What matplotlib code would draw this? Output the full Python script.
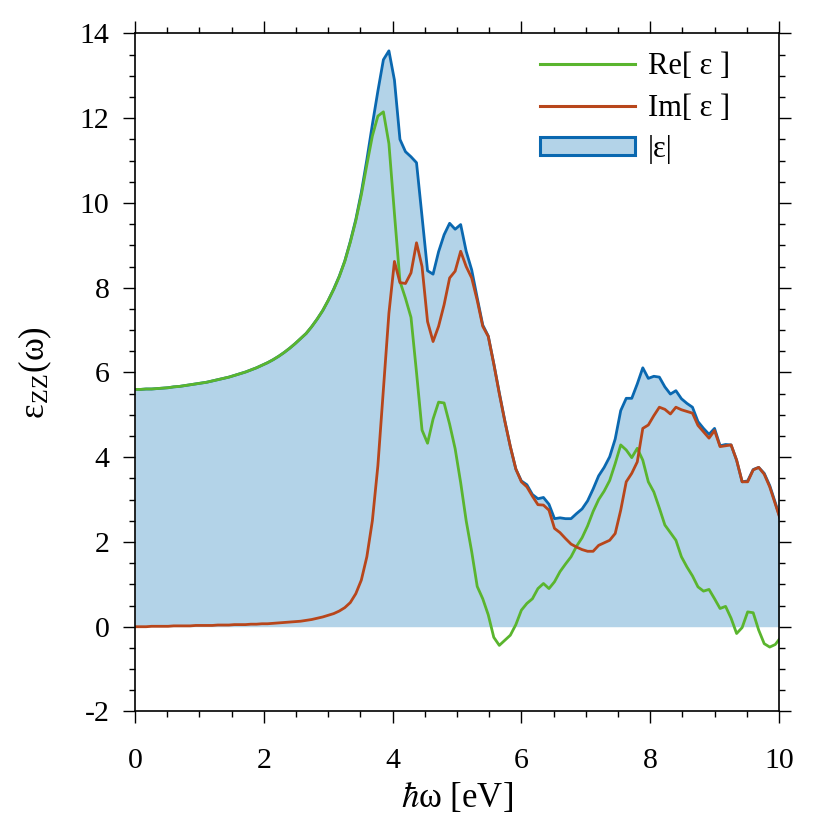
import matplotlib
matplotlib.use('Agg')
import matplotlib.pyplot as plt
import numpy as np
from matplotlib.ticker import MultipleLocator
from matplotlib.patches import Patch

plt.rcParams['font.family'] = ['Liberation Serif', 'DejaVu Serif']
plt.rcParams['mathtext.fontset'] = 'stix'
plt.rcParams['axes.unicode_minus'] = False

# energy grid (eV), step of the computed spectrum
energia = np.arange(118) * 0.0857

# Re[eps]
eps_re = [5.60, 5.60, 5.61, 5.61, 5.62, 5.63, 5.64, 5.66, 5.67, 5.69,
          5.71, 5.73, 5.75, 5.77, 5.80, 5.83, 5.86, 5.89, 5.93, 5.97,
          6.01, 6.06, 6.11, 6.17, 6.23, 6.30, 6.38, 6.47, 6.57, 6.68,
          6.80, 6.92, 7.08, 7.26, 7.46, 7.70, 7.96, 8.26, 8.62, 9.07,
          9.58, 10.19, 10.90, 11.58, 12.05, 12.15, 11.40, 9.75, 8.15, 7.75,
          7.30, 6.00, 4.64, 4.33, 4.90, 5.30, 5.28, 4.78, 4.20, 3.40,
          2.50, 1.77, 0.95, 0.66, 0.28, -0.25, -0.44, -0.32, -0.20, 0.05,
          0.39, 0.55, 0.66, 0.90, 1.02, 0.90, 1.06, 1.30, 1.48, 1.65,
          1.90, 2.10, 2.38, 2.72, 3.00, 3.20, 3.45, 3.85, 4.29, 4.17,
          3.99, 4.21, 3.93, 3.42, 3.18, 2.80, 2.40, 2.22, 2.04, 1.65,
          1.41, 1.20, 0.94, 0.84, 0.88, 0.66, 0.43, 0.48, 0.20, -0.16,
          -0.02, 0.35, 0.33, -0.08, -0.40, -0.48, -0.42, -0.25]

# Im[eps]
eps_im = [0.00, 0.00, 0.00, 0.01, 0.01, 0.01, 0.01, 0.02, 0.02, 0.02,
          0.02, 0.03, 0.03, 0.03, 0.03, 0.04, 0.04, 0.04, 0.05, 0.05,
          0.05, 0.06, 0.06, 0.07, 0.07, 0.08, 0.09, 0.10, 0.11, 0.12,
          0.13, 0.15, 0.17, 0.20, 0.23, 0.27, 0.31, 0.37, 0.45, 0.57,
          0.78, 1.10, 1.65, 2.50, 3.80, 5.60, 7.40, 8.62, 8.12, 8.10,
          8.35, 9.06, 8.50, 7.20, 6.73, 7.09, 7.60, 8.23, 8.39, 8.86,
          8.50, 8.23, 7.70, 7.09, 6.85, 6.20, 5.50, 4.85, 4.25, 3.72,
          3.42, 3.30, 3.08, 2.88, 2.87, 2.75, 2.32, 2.22, 2.08, 1.95,
          1.88, 1.82, 1.78, 1.78, 1.92, 1.98, 2.04, 2.20, 2.75, 3.42,
          3.62, 3.89, 4.68, 4.76, 4.98, 5.18, 5.13, 5.02, 5.18, 5.12,
          5.08, 5.04, 4.75, 4.60, 4.45, 4.63, 4.25, 4.27, 4.29, 3.93,
          3.42, 3.42, 3.70, 3.76, 3.60, 3.30, 2.90, 2.50]

# |eps|
eps_abs = [5.60, 5.60, 5.61, 5.61, 5.62, 5.63, 5.64, 5.66, 5.67, 5.69,
           5.71, 5.73, 5.75, 5.77, 5.80, 5.83, 5.86, 5.89, 5.93, 5.97,
           6.01, 6.06, 6.11, 6.17, 6.23, 6.30, 6.38, 6.47, 6.57, 6.68,
           6.80, 6.92, 7.08, 7.26, 7.46, 7.70, 7.97, 8.27, 8.63, 9.09,
           9.61, 10.25, 11.02, 11.85, 12.64, 13.38, 13.59, 12.90, 11.50, 11.21,
           11.09, 10.95, 9.68, 8.40, 8.32, 8.85, 9.25, 9.52, 9.38, 9.49,
           8.86, 8.42, 7.76, 7.12, 6.86, 6.21, 5.52, 4.86, 4.25, 3.72,
           3.44, 3.35, 3.12, 3.02, 3.05, 2.89, 2.55, 2.57, 2.55, 2.55,
           2.67, 2.78, 2.97, 3.25, 3.56, 3.76, 4.01, 4.43, 5.10, 5.39,
           5.39, 5.73, 6.11, 5.86, 5.91, 5.89, 5.66, 5.49, 5.57, 5.38,
           5.27, 5.18, 4.84, 4.68, 4.54, 4.68, 4.27, 4.30, 4.29, 3.93,
           3.42, 3.44, 3.71, 3.76, 3.62, 3.33, 2.93, 2.51]

cor_re = '#5ab52e'
cor_im = '#b8461b'
cor_abs = '#0a68b0'
cor_fill = '#b3d3e8'

fig = plt.figure(figsize=(8.3, 8.3), dpi=100)
ax = fig.add_axes([0.1627, 0.1428, 0.7759, 0.8169])

ax.fill_between(energia, 0, eps_abs, color=cor_fill, lw=0)
ax.plot(energia, eps_abs, color=cor_abs, lw=2.0)
ax.plot(energia, eps_re, color=cor_re, lw=2.0)
ax.plot(energia, eps_im, color=cor_im, lw=2.0)

ax.set_xlim(0, 10)
ax.set_ylim(-2, 14)
ax.xaxis.set_major_locator(MultipleLocator(2))
ax.xaxis.set_minor_locator(MultipleLocator(0.5))
ax.yaxis.set_major_locator(MultipleLocator(2))
ax.yaxis.set_minor_locator(MultipleLocator(0.5))
ax.tick_params(which='both', direction='out', top=True, right=True,
               width=1.0, labelsize=21.5)
ax.tick_params(axis='x', pad=18)
ax.tick_params(axis='y', pad=10)
ax.tick_params(which='major', length=8.5)
ax.tick_params(which='minor', length=4)
for s in ax.spines.values():
    s.set_linewidth(1.2)

ax.set_xlabel(r'$\hbar$ω [eV]', fontsize=25, labelpad=4)
ax.set_ylabel(r'ε$_{\mathregular{ZZ}}$(ω)', fontsize=25, labelpad=18)

h_re, = ax.plot([], [], color=cor_re, lw=2.2)
h_im, = ax.plot([], [], color=cor_im, lw=2.2)
h_abs = Patch(facecolor=cor_fill, edgecolor=cor_abs, lw=2.2)
ax.legend([h_re, h_im, h_abs], ['Re[ ε ]', 'Im[ ε ]', '|ε|'],
          loc='upper left', bbox_to_anchor=(0.629, 0.972), frameon=False,
          fontsize=22, handlelength=3.1, handletextpad=0.43, handleheight=0.55,
          labelspacing=0.40, borderpad=0, borderaxespad=0)

fig.savefig('out.png', dpi=100)
